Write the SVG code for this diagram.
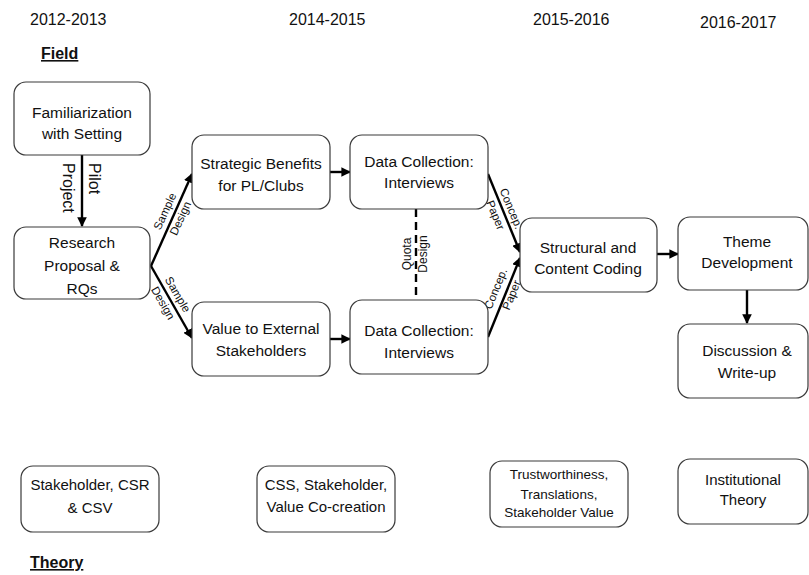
<svg xmlns="http://www.w3.org/2000/svg" width="809" height="575" viewBox="0 0 809 575">
<style>
text{font-family:"Liberation Sans",Arial,sans-serif;fill:#111}
.hdr{font-size:16px}
.ttl{font-size:16px;font-weight:bold;text-decoration:underline}
.box{fill:#fff;stroke:#3a3a3a;stroke-width:1.2}
.n{font-size:15.5px;text-anchor:middle}
.t{font-size:15px;text-anchor:middle}
.s{font-size:13.5px;text-anchor:middle}
.lbl{font-size:11.5px;text-anchor:middle}
.ar{stroke:#000;stroke-width:2.4;fill:none;marker-end:url(#ah)}
</style>
<defs>
<marker id="ah" viewBox="0 0 10 10" refX="9" refY="5" markerWidth="4" markerHeight="4" orient="auto" markerUnits="strokeWidth">
<path d="M0,0 L10,5 L0,10 z" fill="#000"/>
</marker>
</defs>
<rect width="809" height="575" fill="#fff"/>
<g id="headers">
<text class="hdr" x="30" y="25">2012-2013</text>
<text class="hdr" x="289" y="25">2014-2015</text>
<text class="hdr" x="533" y="25">2015-2016</text>
<text class="hdr" x="700" y="28">2016-2017</text>
<text class="ttl" x="41" y="59">Field</text>
<text class="ttl" x="30" y="568">Theory</text>
</g>
<g id="connectors">
<line class="ar" x1="82" y1="155" x2="82" y2="226"/>
<line class="ar" x1="151" y1="266" x2="192" y2="174"/>
<line class="ar" x1="151" y1="266" x2="192" y2="338"/>
<line class="ar" x1="330" y1="172" x2="350" y2="172"/>
<line class="ar" x1="330" y1="339" x2="350" y2="339"/>
<line class="ar" x1="488" y1="174" x2="520" y2="252"/>
<line class="ar" x1="488" y1="337" x2="520" y2="258"/>
<line class="ar" x1="657" y1="254" x2="678" y2="254"/>
<line class="ar" x1="747" y1="290" x2="747" y2="323"/>
<line x1="416" y1="209" x2="416" y2="300" stroke="#000" stroke-width="2.4" stroke-dasharray="8,5"/>
<g transform="translate(82,163) rotate(90)"><text style="font-size:16px" x="0" y="-7">Pilot</text><text style="font-size:16px" x="0" y="19">Project</text></g>
<g transform="translate(173,215) rotate(-65.5)"><text class="lbl" x="0" y="-5">Sample</text><text class="lbl" x="0" y="12">Design</text></g>
<g transform="translate(170,299) rotate(60)"><text class="lbl" x="0" y="-5">Sample</text><text class="lbl" x="0" y="12">Design</text></g>
<g transform="translate(503,212) rotate(67.4)"><text class="lbl" x="0" y="-5">Concep.</text><text class="lbl" x="0" y="12">Paper</text></g>
<g transform="translate(504,292) rotate(-67.9)"><text class="lbl" x="0" y="-5">Concep.</text><text class="lbl" x="0" y="12">Paper</text></g>
<g transform="translate(415,254) rotate(-90)"><text class="lbl" style="font-size:12px" x="0" y="-4">Quota</text><text class="lbl" style="font-size:12px" x="0" y="12">Design</text></g>
</g>
<g id="familiarization"><rect class="box" x="14" y="82" width="136" height="73" rx="12"/><text class="n" x="82" y="118">Familiarization</text><text class="n" x="82" y="139">with Setting</text></g>
<g id="research"><rect class="box" x="14" y="227" width="136" height="72" rx="12"/><text class="n" x="82" y="248">Research</text><text class="n" x="82" y="271">Proposal &amp;</text><text class="n" x="82" y="294">RQs</text></g>
<g id="strategic"><rect class="box" x="192" y="135" width="138" height="74" rx="12"/><text class="n" x="261" y="169">Strategic Benefits</text><text class="n" x="261" y="191">for PL/Clubs</text></g>
<g id="value"><rect class="box" x="192" y="302" width="138" height="74" rx="12"/><text class="n" x="261" y="334">Value to External</text><text class="n" x="261" y="356">Stakeholders</text></g>
<g id="data1"><rect class="box" x="350" y="135" width="138" height="74" rx="12"/><text class="n" x="419" y="167">Data Collection:</text><text class="n" x="419" y="188">Interviews</text></g>
<g id="data2"><rect class="box" x="350" y="300" width="138" height="74" rx="12"/><text class="n" x="419" y="336">Data Collection:</text><text class="n" x="419" y="358">Interviews</text></g>
<g id="structural"><rect class="box" x="520" y="218" width="137" height="74" rx="12"/><text class="n" x="588" y="253">Structural and</text><text class="n" x="588" y="274">Content Coding</text></g>
<g id="theme"><rect class="box" x="678" y="217" width="130" height="73" rx="12"/><text class="n" x="747" y="247">Theme</text><text class="n" x="747" y="268">Development</text></g>
<g id="discussion"><rect class="box" x="678" y="324" width="130" height="74" rx="12"/><text class="n" x="747" y="356">Discussion &amp;</text><text class="n" x="747" y="378">Write-up</text></g>
<g id="theory1"><rect class="box" x="21" y="466" width="138" height="66" rx="12"/><text class="t" x="90" y="490">Stakeholder, CSR</text><text class="t" x="90" y="513">&amp; CSV</text></g>
<g id="theory2"><rect class="box" x="257" y="466" width="138" height="66" rx="12"/><text class="t" x="326" y="490">CSS, Stakeholder,</text><text class="t" x="326" y="512">Value Co-creation</text></g>
<g id="theory3"><rect class="box" x="490" y="461" width="138" height="66" rx="12"/><text class="s" x="559" y="479">Trustworthiness,</text><text class="s" x="559" y="499">Translations,</text><text class="s" x="559" y="517">Stakeholder Value</text></g>
<g id="theory4"><rect class="box" x="678" y="459" width="130" height="65" rx="12"/><text class="t" x="743" y="485">Institutional</text><text class="t" x="743" y="505">Theory</text></g>
</svg>
